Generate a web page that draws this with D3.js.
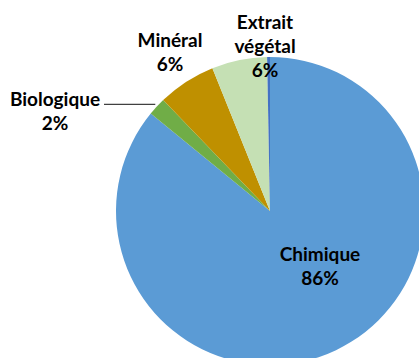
<!DOCTYPE html>
<html>
<head>
<meta charset="utf-8">
<script src="https://cdn.jsdelivr.net/npm/d3@7"></script>
<style>
  html, body { margin: 0; padding: 0; background: #fff; }
  svg { display: block; }
  text { font-family: Lato, "Liberation Sans", sans-serif; font-weight: bold; fill: #000; }
</style>
</head>
<body>
<svg id="chart" width="419" height="358"></svg>
<script>
// ---- data ----
const categories = ["Chimique", "Biologique", "Minéral", "Extrait végétal", "Autre"];
const values = [85.9, 1.9, 6.1, 5.8, 0.3];
const colors = ["#5B9BD5", "#70AD47", "#BF9000", "#C5E0B4", "#4472C4"];
const labelLines = [["Chimique"], ["Biologique"], ["Minéral"], ["Extrait", "végétal"], null];

// ---- layout ----
const W = 419, H = 358;
const cx = 270, cy = 211, R = 154;
// label block anchors (centre x, first baseline y)
const labelAnchors = [[320, 261], [55, 106], [170, 47], [265, 29], null];
const lineH = 24;
const fontSize = 19;

const svg = d3.select("#chart");
const g = svg.append("g").attr("transform", `translate(${cx},${cy})`);

const total = d3.sum(values);
const pie = d3.pie().sort(null).value(d => d)(values);
const arc = d3.arc().innerRadius(0).outerRadius(R);

g.selectAll("path.slice")
  .data(pie)
  .join("path")
  .attr("class", "slice")
  .attr("d", arc)
  .attr("fill", (d, i) => colors[i]);

// leader line for Biologique
{
  const d = pie[1];
  const mid = (d.startAngle + d.endAngle) / 2;
  const px = Math.sin(mid) * (R + 2);
  const py = -Math.cos(mid) * (R + 2);
  svg.append("line")
    .attr("x1", 104).attr("y1", cy + py - 1)
    .attr("x2", cx + px).attr("y2", cy + py - 1)
    .attr("stroke", "#404040").attr("stroke-width", 1.2);
}

// labels
labelLines.forEach((lines, i) => {
  if (!lines) return;
  const [ax, ay] = labelAnchors[i];
  const t = svg.append("text")
    .attr("text-anchor", "middle")
    .attr("font-size", fontSize);
  const all = lines.concat([Math.round(values[i] / total * 100) + "%"]);
  all.forEach((s, k) => {
    t.append("tspan").attr("x", ax).attr("y", ay + k * lineH).text(s);
  });
});
</script>
</body>
</html>
